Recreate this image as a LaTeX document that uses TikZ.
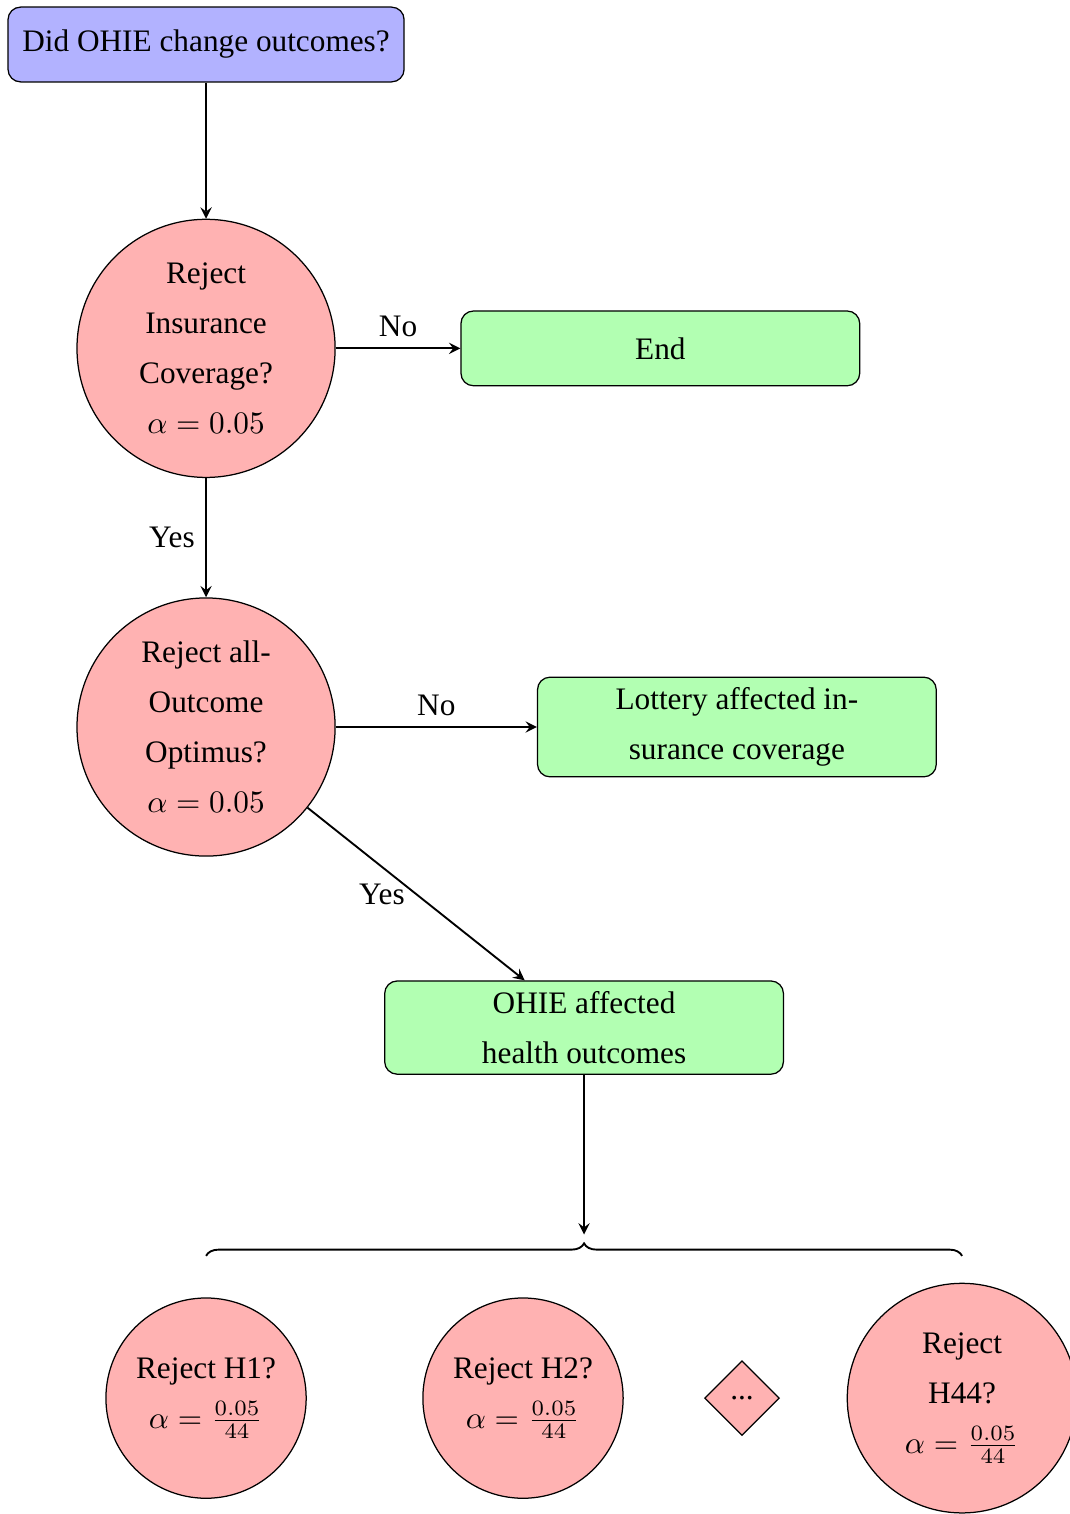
\documentclass[tikz,border=0pt]{standalone}
\usepackage{fontspec}
\setmainfont{Liberation Serif}
\usetikzlibrary{positioning,shapes.geometric,decorations.pathreplacing}

\begin{document}
\begin{tikzpicture}[>=stealth,font=\fontsize{10}{16}\selectfont,
    box/.style={draw,rounded corners,align=center,minimum width=4.48cm,minimum height=0.84cm},
    question/.style={draw,circle,fill=red!30,align=center,minimum size=2.9cm,inner sep=0pt},
    test/.style={draw,circle,fill=red!30,align=center,minimum size=2.25cm,inner sep=0pt},
    link/.style={->,semithick}]
        \useasboundingbox (0,0) rectangle (12.02,-17.01);
        \node[box,fill=blue!30,minimum width=4.45cm] (start) at (2.315,-0.5) {Did OHIE change outcomes?};
        \node[question,below=1.53cm of start] (cov) {Reject\\Insurance\\Coverage?\\$\alpha=0.05$};
        \node[box,fill=green!30,right=1.4cm of cov] (end) {End};
        \node[question,below=1.34cm of cov] (all) {Reject all-\\Outcome\\Optimus?\\$\alpha=0.05$};
        \node[box,fill=green!30,minimum height=1.11cm,right=2.26cm of all] (lottery) {Lottery affected in-\\surance coverage};
        \node[box,fill=green!30,minimum height=1.045cm] (health) at (6.562,-11.545) {OHIE affected\\health outcomes};
        \node[test] (h1) at (2.315,-15.708) {Reject H1?\\$\alpha=\frac{0.05}{44}$};
        \node[test] (h2) at (5.876,-15.708) {Reject H2?\\$\alpha=\frac{0.05}{44}$};
        \node[draw,diamond,fill=red!30,minimum size=0.84cm,inner sep=0pt] (dots) at (8.337,-15.708) {...};
        \node[test,minimum size=2.58cm] (h44) at (10.809,-15.708) {Reject\\H44?\\$\alpha=\frac{0.05}{44}$};
        \coordinate (bl) at (h1.center |- 0,-14.11);
        \coordinate (br) at (h44.center |- 0,-14.11);
        \coordinate (tip) at (health.center |- 0,-13.87);
        \draw[link] (start) -- (cov);
        \draw[link] (cov) -- node[above] {No} (end);
        \draw[link] (cov) -- node[left] {Yes} (all);
        \draw[link] (all) -- node[above] {No} (lottery);
        \draw[link] (all) -- node[left] {Yes} (health);
        \draw[link] (health) -- (tip);
        \draw[semithick,decorate,decoration={brace,amplitude=4pt}] (bl) -- (br);
    \end{tikzpicture}
\end{document}
